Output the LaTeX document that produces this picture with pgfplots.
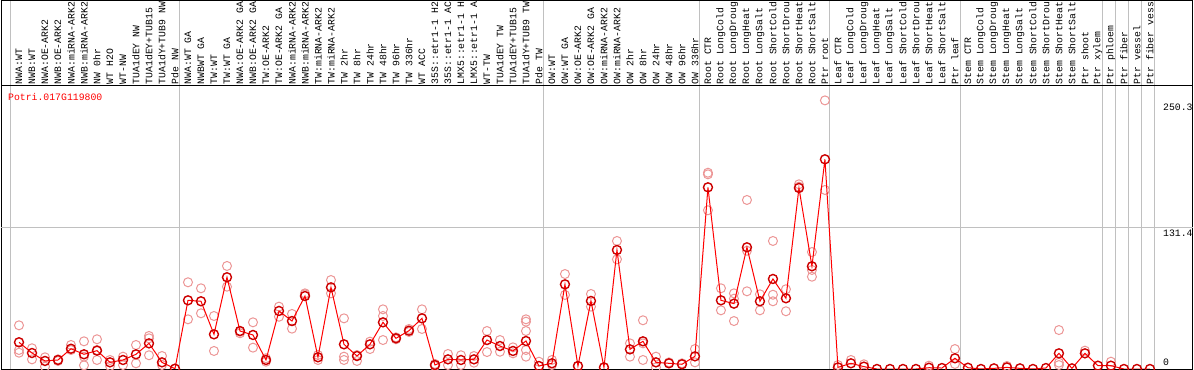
\documentclass[border=0pt]{standalone}
\usepackage{fontspec}
\usepackage{pgfplots}
\pgfplotsset{compat=1.18}
\newfontfamily\pix{Liberation Mono}
\definecolor{rep}{RGB}{236,150,150}
\definecolor{sep}{RGB}{192,192,192}
\begin{document}
\begin{tikzpicture}
\useasboundingbox (0,0) rectangle (1194bp,370bp);
\begin{axis}[
 at={(1bp,1bp)}, anchor=south west,
 scale only axis, width=1192bp, height=283bp,
 xmin=-1.3846, xmax=90.31, ymin=0, ymax=263.7,
 axis line style={black, line width=1bp},
 xtick={0,...,87},
 xticklabels={NWA:WT,NWB:WT,NWA:OE-ARK2,NWB:OE-ARK2,NWA:miRNA-ARK2,NWB:miRNA-ARK2,NW 0hr,WT H2O,WT-NW,TUA1dEY NW,TUA1dEY+TUB15,TUA1dY+TUB9 NW,Pde NW,
 NWA:WT GA,NWBWT GA,TW:WT,TW:WT GA,NWA:OE-ARK2 GA,NWB:OE-ARK2 GA,TW:OE-ARK2,TW:OE-ARK2 GA,NWA:miRNA-ARK2,NWB:miRNA-ARK2,TW:miRNA-ARK2,TW:miRNA-ARK2,TW 2hr,TW 8hr,TW 24hr,TW 48hr,TW 96hr,TW 336hr,WT ACC,35S::etr1-1 H2,35S::etr1-1 AC,LMX5::etr1-1 H,LMX5::etr1-1 A,WT-TW,TUA1dEY TW,TUA1dEY+TUB15,TUA1dY+TUB9 TW,Pde TW,
 OW:WT,OW:WT GA,OW:OE-ARK2,OW:OE-ARK2 GA,OW:miRNA-ARK2,OW:miRNA-ARK2,OW 2hr,OW 8hr,OW 24hr,OW 48hr,OW 96hr,OW 336hr,
 Root CTR,Root LongCold,Root LongDroug,Root LongHeat,Root LongSalt,Root ShortCold,Root ShortDrou,Root ShortHeat,Root ShortSalt,Ptr root,
 Leaf CTR,Leaf LongCold,Leaf LongDroug,Leaf LongHeat,Leaf LongSalt,Leaf ShortCold,Leaf ShortDrou,Leaf ShortHeat,Leaf ShortSalt,Ptr leaf,
 Stem CTR,Stem LongCold,Stem LongDroug,Stem LongHeat,Stem LongSalt,Stem ShortCold,Stem ShortDrou,Stem ShortHeat,Stem ShortSalt,Ptr shoot,Ptr xylem,
 Ptr phloem,Ptr fiber,Ptr vessel,Ptr fiber vess},
 xticklabel pos=upper, major tick length=0pt,
 x tick label style={rotate=90, anchor=west, font=\pix\fontsize{9.8bp}{10bp}\selectfont, inner sep=1.5bp},
 ytick=\empty,
 clip mode=individual,
]
\pgfplotsinvokeforeach{-0.69,12.385,40.385,52.385,62.385,72.46,83.385,84.385,85.385,86.385,87.385}{
  \draw[sep, line width=1bp] (axis cs:#1,0) -- (axis cs:#1,343.4);
}
\draw[sep, line width=1bp] (axis cs:-1.3846,131.4) -- (axis cs:90.31,131.4);
\draw[black, line width=1bp] (axis cs:-1.3846,263.7) rectangle (axis cs:90.31,343.4);

\addplot[only marks, mark=o, mark size=4.5bp, rep, mark options={line width=1bp}] table {
x y
0 40.7
0 17.7
0 15.2
1 19.3
1 9.0
2 10.9
2 2.2
3 9.0
3 7.5
4 22.4
4 17.7
5 25.8
5 3.4
5 11.5
6 27.7
6 8.4
6 17.7
7 8.4
7 2.8
8 11.5
8 3.7
9 22.4
9 5.3
10 30.8
10 12.8
10 28.6
11 12.1
11 3.7
12 0.3
13 80.8
13 46.3
14 75.2
14 51.9
15 49.4
15 16.8
16 96.0
16 76.7
17 34.8
17 33.3
18 43.5
18 19.9
19 6.8
19 10.0
20 58.1
20 48.7
21 51.3
21 37.6
22 70.5
22 69.6
23 8.4
23 13.0
24 82.9
24 70.5
25 47.2
25 11.5
25 8.4
26 7.5
26 13.0
27 25.5
27 18.6
28 55.6
28 49.4
28 27.0
29 29.5
29 27.7
30 37.3
30 34.5
31 55.6
31 37.3
32 2.8
32 4.7
33 14.0
33 3.7
34 12.8
34 3.7
35 12.1
35 5.9
36 35.4
36 15.8
37 27.0
37 16.1
38 20.2
38 14.6
39 46.3
39 44.1
39 35.4
39 17.7
39 11.5
40 6.8
41 8.4
41 3.7
42 88.5
42 69.0
43 2.8
44 69.9
44 58.1
45 1.5
46 119.3
46 102.2
47 23.9
47 11.5
48 45.4
48 8.4
48 23.9
49 11.5
49 1.5
50 6.2
51 5.3
52 18.6
52 6.2
53 182.9
53 181.4
53 147.9
54 75.2
54 54.7
55 70.5
55 44.7
55 65.5
56 157.5
56 72.4
56 110.2
57 69.6
57 54.7
58 119.3
58 69.2
58 63.1
59 74.3
59 53.8
60 172.1
60 169.9
61 109.0
61 86.0
61 92.3
62 166.8
62 250.3
63 3.7
64 8.4
65 4.4
70 3.1
72 18.6
72 4.7
76 2.8
80 36.3
80 5.9
80 3.7
82 17.1
84 6.8
};

\addplot[red, line width=1bp, mark=o, mark size=4.5bp, mark options={draw=red!80!black, line width=1.4bp}] table {
x y
0 24.9
1 14.9
2 7.5
3 8.4
4 18.9
5 13.7
6 17.1
7 6.2
8 8.4
9 13.7
10 23.9
11 6.2
12 0.3
13 64.0
14 63.1
15 32.3
16 85.5
17 35.4
18 31.7
19 8.4
20 54.1
21 44.7
22 68.0
23 10.9
24 76.1
25 23.0
26 12.1
27 23.0
28 43.5
29 28.6
30 35.7
31 47.2
32 3.7
33 9.0
34 8.4
35 9.0
36 27.0
37 21.4
38 16.8
39 26.1
40 2.8
41 5.3
42 78.9
43 2.8
44 63.4
45 1.5
46 110.9
47 18.3
48 25.8
49 6.2
50 5.3
51 4.4
52 11.8
53 169.3
54 64.0
55 60.9
56 113.4
57 63.1
58 83.9
59 65.9
60 168.7
61 95.7
62 195.4
63 1.5
64 5.3
65 2.2
66 0
67 0
68 0
69 0
70 1.2
71 0.9
72 10.0
73 1.2
74 0
75 0.6
76 1.5
77 0.6
78 0
79 0.9
80 14.6
81 0.6
82 14.6
83 3.1
84 3.1
85 0
86 0
87 0
};

\node[anchor=west, font=\pix\fontsize{9.8bp}{10bp}\selectfont, inner sep=0pt] at (axis cs:88,244.1) {250.3};
\node[anchor=west, font=\pix\fontsize{9.8bp}{10bp}\selectfont, inner sep=0pt] at (axis cs:88,126.7) {131.4};
\node[anchor=west, font=\pix\fontsize{9.8bp}{10bp}\selectfont, inner sep=0pt] at (axis cs:88,6.5) {0};
\node[anchor=west, text=red, font=\pix\fontsize{9.8bp}{10bp}\selectfont, inner sep=0pt] at (axis cs:-0.846,253.5) {Potri.017G119800};
\end{axis}
\end{tikzpicture}
\end{document}
